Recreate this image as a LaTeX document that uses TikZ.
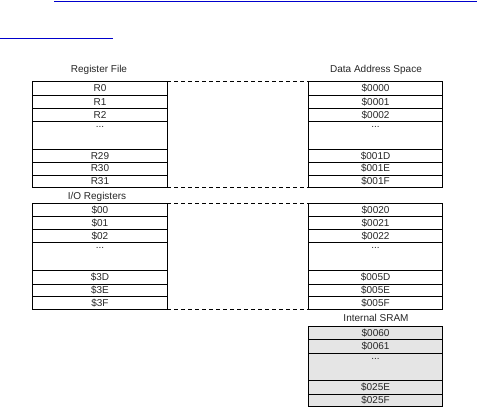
\documentclass[tikz,border=0pt]{standalone}
\usepackage{fontspec}
\setmainfont{Liberation Sans}
\usetikzlibrary{calc}
\tikzset{
  cell/.style={draw=black, line width=1pt, minimum width=134.5pt, inner sep=0pt, outer sep=0pt, anchor=north west, font=\fontsize{10}{11}\selectfont, text=black!85},
  sram/.style={cell, fill=black!10},
  title/.style={font=\fontsize{10}{11}\selectfont, text=black!85, inner sep=0pt},
  dots/.style={font=\fontsize{10}{11}\selectfont, text=black!85, anchor=center, inner sep=0pt},
  link/.style={draw=blue!80!black, line width=0.8pt},
  map/.style={draw=black, line width=0.6pt, dash pattern=on 4pt off 3pt}
}
\begin{document}
\begin{tikzpicture}[x=1pt,y=-1pt]
\useasboundingbox (0,0) rectangle (484,410);
% hyperlink underlines
\coordinate (l1a) at (54,1.7); \coordinate (l1b) at (477,1.7);
\coordinate (l2a) at (0,38.3); \coordinate (l2b) at (113,38.3);
\draw[link] (l1a) -- (l1b);
\draw[link] (l2a) -- (l2b);
% titles
\node[title] (trf) at (99,70) {Register File};
\node[title] (tdas) at (376,70) {Data Address Space};
\node[title] (tio) at (97,197) {I/O Registers};
\node[title] (tsram) at (376,318) {Internal SRAM};
% Register file
\node[cell, minimum height=13.3pt] (r0) at (32.7,81.7) {R0};
\node[cell, minimum height=13.3pt] (r1) at (32.7,95) {R1};
\node[cell, minimum height=12.7pt] (r2) at (32.7,108.3) {R2};
\node[cell, minimum height=28.3pt] (rg) at (32.7,121) {};
\node[dots] (rgd) at ($(rg.north)+(0,5.5)$) {...};
\node[cell, minimum height=12.7pt] (r29) at (32.7,149.3) {R29};
\node[cell, minimum height=13pt] (r30) at (32.7,162) {R30};
\node[cell, minimum height=12.7pt] (r31) at (32.7,175) {R31};
% Data address 1
\node[cell, minimum height=13.3pt] (a00) at (308.3,81.7) {\$0000};
\node[cell, minimum height=13.3pt] (a01) at (308.3,95) {\$0001};
\node[cell, minimum height=12.7pt] (a02) at (308.3,108.3) {\$0002};
\node[cell, minimum height=28.3pt] (ag) at (308.3,121) {};
\node[dots] (agd) at ($(ag.north)+(0,5.5)$) {...};
\node[cell, minimum height=12.7pt] (a1d) at (308.3,149.3) {\$001D};
\node[cell, minimum height=13pt] (a1e) at (308.3,162) {\$001E};
\node[cell, minimum height=12.7pt] (a1f) at (308.3,175) {\$001F};
% I/O registers
\node[cell, minimum height=13.4pt] (io0) at (32.7,203.3) {\$00};
\node[cell, minimum height=12.6pt] (io1) at (32.7,216.7) {\$01};
\node[cell, minimum height=13pt] (io2) at (32.7,229.3) {\$02};
\node[cell, minimum height=28.4pt] (iog) at (32.7,242.3) {};
\node[dots] (iogd) at ($(iog.north)+(0,5.5)$) {...};
\node[cell, minimum height=13.3pt] (io3d) at (32.7,270.7) {\$3D};
\node[cell, minimum height=12.7pt] (io3e) at (32.7,284) {\$3E};
\node[cell, minimum height=12.6pt] (io3f) at (32.7,296.7) {\$3F};
% Data address 2
\node[cell, minimum height=13.4pt] (b20) at (308.3,203.3) {\$0020};
\node[cell, minimum height=12.6pt] (b21) at (308.3,216.7) {\$0021};
\node[cell, minimum height=13pt] (b22) at (308.3,229.3) {\$0022};
\node[cell, minimum height=28.4pt] (bg) at (308.3,242.3) {};
\node[dots] (bgd) at ($(bg.north)+(0,5.5)$) {...};
\node[cell, minimum height=13.3pt] (b5d) at (308.3,270.7) {\$005D};
\node[cell, minimum height=12.7pt] (b5e) at (308.3,284) {\$005E};
\node[cell, minimum height=12.6pt] (b5f) at (308.3,296.7) {\$005F};
% Internal SRAM
\node[sram, minimum height=12.6pt] (s60) at (308.3,326.7) {\$0060};
\node[sram, minimum height=14pt] (s61) at (308.3,339.3) {\$0061};
\node[sram, minimum height=27.4pt] (sg) at (308.3,353.3) {};
\node[dots] (sgd) at ($(sg.north)+(0,5.5)$) {...};
\node[sram, minimum height=13.3pt] (s25e) at (308.3,380.7) {\$025E};
\node[sram, minimum height=12.7pt] (s25f) at (308.3,394) {\$025F};
% mapping dashes
\draw[map] (r0.north east) -- (a00.north west);
\draw[map] (r31.south east) -- (a1f.south west);
\draw[map] (io0.north east) -- (b20.north west);
\draw[map] (io3f.south east) -- (b5f.south west);
\end{tikzpicture}
\end{document}
